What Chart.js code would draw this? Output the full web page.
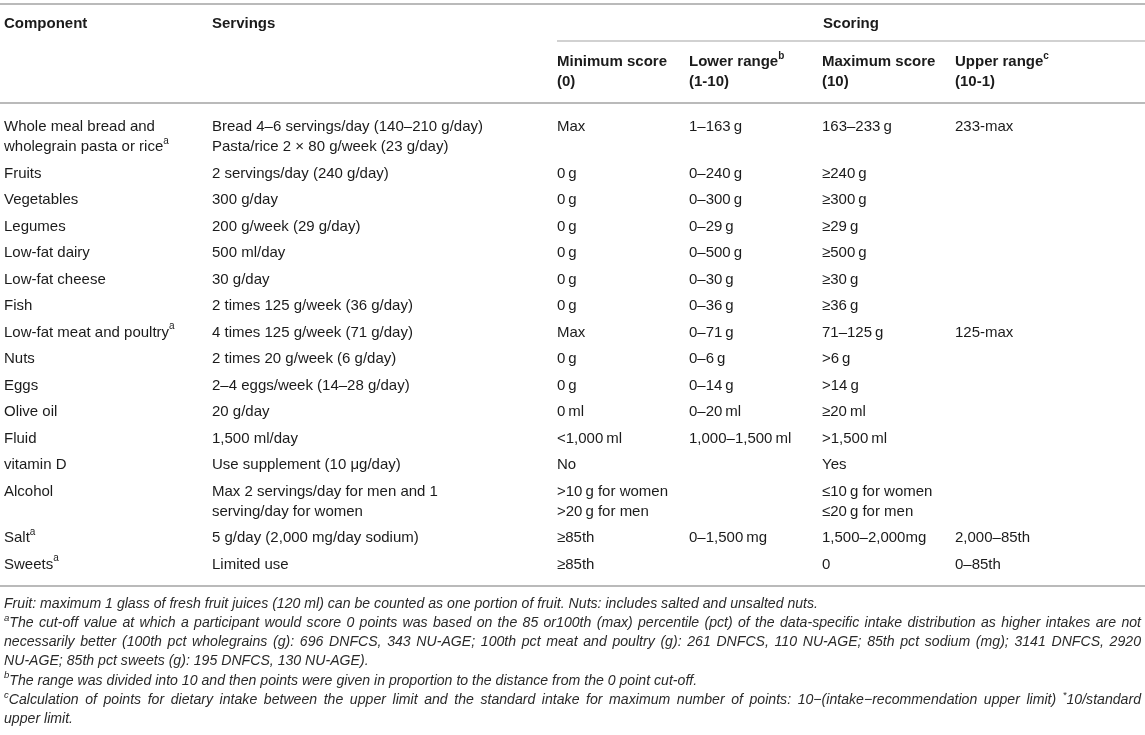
<!DOCTYPE html>
<html>
<head>
<meta charset="utf-8">
<script src="https://cdn.jsdelivr.net/npm/chart.js@4.4.0/dist/chart.umd.min.js"></script>
<style>
  html, body { margin: 0; padding: 0; background: #fff; }
  #wrap { width: 1145px; height: 735px; position: relative; }
</style>
</head>
<body>
<div id="wrap"><canvas id="tbl"></canvas></div>
<script>
// table content ({x} = superscript)
const headerTop = ['Component', 'Servings', 'Scoring'];
const scoreHeads = ['Minimum score\n(0)', 'Lower range{b}\n(1-10)', 'Maximum score\n(10)', 'Upper range{c}\n(10-1)'];

const components = [
  'Whole meal bread and\nwholegrain pasta or rice{a}', 'Fruits', 'Vegetables', 'Legumes',
  'Low-fat dairy', 'Low-fat cheese', 'Fish', 'Low-fat meat and poultry{a}', 'Nuts', 'Eggs',
  'Olive oil', 'Fluid', 'vitamin D', 'Alcohol', 'Salt{a}', 'Sweets{a}'
];
const servings = [
  'Bread 4–6 servings/day (140–210 g/day)\nPasta/rice 2 × 80 g/week (23 g/day)',
  '2 servings/day (240 g/day)', '300 g/day', '200 g/week (29 g/day)', '500 ml/day', '30 g/day',
  '2 times 125 g/week (36 g/day)', '4 times 125 g/week (71 g/day)', '2 times 20 g/week (6 g/day)',
  '2–4 eggs/week (14–28 g/day)', '20 g/day', '1,500 ml/day', 'Use supplement (10 μg/day)',
  'Max 2 servings/day for men and 1\nserving/day for women', '5 g/day (2,000 mg/day sodium)', 'Limited use'
];
const minScore = [
  'Max', '0 g', '0 g', '0 g', '0 g', '0 g', '0 g', 'Max', '0 g', '0 g', '0 ml', '<1,000 ml', 'No',
  '>10 g for women\n>20 g for men', '≥85th', '≥85th'
];
const lowerRange = [
  '1–163 g', '0–240 g', '0–300 g', '0–29 g', '0–500 g', '0–30 g', '0–36 g', '0–71 g', '0–6 g',
  '0–14 g', '0–20 ml', '1,000–1,500 ml', '', '', '0–1,500 mg', ''
];
const maxScore = [
  '163–233 g', '≥240 g', '≥300 g', '≥29 g', '≥500 g', '≥30 g', '≥36 g', '71–125 g', '>6 g',
  '>14 g', '≥20 ml', '>1,500 ml', 'Yes', '≤10 g for women\n≤20 g for men', '1,500–2,000mg', '0'
];
const upperRange = [
  '233-max', '', '', '', '', '', '', '125-max', '', '', '', '', '', '', '2,000–85th', '0–85th'
];

const footnotes = [
  'Fruit: maximum 1 glass of fresh fruit juices (120 ml) can be counted as one portion of fruit. Nuts: includes salted and unsalted nuts.',
  '{a}The cut-off value at which a participant would score 0 points was based on the 85 or100th (max) percentile (pct) of the data-specific intake distribution as higher intakes are not',
  'necessarily better (100th pct wholegrains (g): 696 DNFCS, 343 NU-AGE; 100th pct meat and poultry (g): 261 DNFCS, 110 NU-AGE; 85th pct sodium (mg); 3141 DNFCS, 2920',
  'NU-AGE; 85th pct sweets (g): 195 DNFCS, 130 NU-AGE).',
  '{b}The range was divided into 10 and then points were given in proportion to the distance from the 0 point cut-off.',
  '{c}Calculation of points for dietary intake between the upper limit and the standard intake for maximum number of points: 10−(intake−recommendation upper limit) {*}10/standard',
  'upper limit.'
];
const footJustified = [false, true, true, false, false, true, false];

// layout
const W = 1145, H = 735;
const colX = [4, 212, 557, 689, 822, 955];
const RIGHT = 1141;
const Y_HEAD = 24, Y_SUBRULE = 41, Y_SUB = 62, LINE = 20, Y_HEADRULE = 103;
const Y_BODY = 127, ROW_GAP = 26.5, RULE_AFTER = 21.5;
const FOOT_GAP = 18, FOOT_LINE = 19.2, FOOT_NATURAL = 814;

const FAMILY = "'Liberation Sans', Arial, sans-serif";
const fBody = '15px ' + FAMILY, fBold = 'bold 15px ' + FAMILY;
const fSup = '10px ' + FAMILY, fSupBold = 'bold 10px ' + FAMILY;
const fFoot = 'italic 14px ' + FAMILY, fFootSup = 'italic 9.5px ' + FAMILY;
const TEXT = '#1b1b1b', RULE = '#a3a3a3';

function parts(text) {
  return text.split(/\{([^}]*)\}/).map((t, i) => ({ t, sup: i % 2 === 1 })).filter(p => p.t);
}

function measureRich(ctx, text, font, sup) {
  let w = 0;
  parts(text).forEach(p => { ctx.font = p.sup ? sup : font; w += ctx.measureText(p.t).width; });
  return w;
}

function drawRich(ctx, text, x, y, font, sup, raise) {
  let cx = x;
  parts(text).forEach(p => {
    ctx.font = p.sup ? sup : font;
    ctx.fillText(p.t, cx, p.sup ? y - raise : y);
    cx += ctx.measureText(p.t).width;
  });
  return cx - x;
}

function thin(s) {
  return s.replace(/(\d) (g|ml|mg)\b/g, '$1\u2009$2');
}

const tablePlugin = {
  id: 'tablePlugin',
  afterDraw(chart) {
    const ctx = chart.ctx;
    const sx = v => chart.scales.x.getPixelForValue(v);
    const sy = v => chart.scales.y.getPixelForValue(v);
    const rule = (x0, x1, y, lw) => {
      ctx.strokeStyle = RULE; ctx.lineWidth = lw;
      ctx.beginPath(); ctx.moveTo(sx(x0), sy(y)); ctx.lineTo(sx(x1), sy(y)); ctx.stroke();
    };
    ctx.save();
    ctx.fillStyle = TEXT;
    ctx.textBaseline = 'middle';
    ctx.textAlign = 'left';

    // header
    rule(0, W, 4, 1.6);
    drawRich(ctx, headerTop[0], sx(colX[0]), sy(Y_HEAD), fBold, fSupBold, 6);
    drawRich(ctx, headerTop[1], sx(colX[1]), sy(Y_HEAD), fBold, fSupBold, 6);
    ctx.font = fBold;
    const sw = ctx.measureText(headerTop[2]).width;
    ctx.fillText(headerTop[2], sx((colX[2] + W) / 2) - sw / 2, sy(Y_HEAD));
    rule(colX[2], W, Y_SUBRULE, 1.2);
    scoreHeads.forEach((h, i) => {
      h.split('\n').forEach((ln, k) => drawRich(ctx, ln, sx(colX[i + 2]), sy(Y_SUB + k * LINE), fBold, fSupBold, 6));
    });
    rule(0, W, Y_HEADRULE, 1.6);

    // body
    const cols = [components, servings, minScore, lowerRange, maxScore, upperRange];
    let y = Y_BODY;
    components.forEach((_, r) => {
      let lines = 1;
      cols.forEach((col, c) => {
        const cell = c >= 2 ? thin(col[r]) : col[r];
        const ls = cell ? cell.split('\n') : [];
        lines = Math.max(lines, ls.length);
        ls.forEach((ln, k) => drawRich(ctx, ln, sx(colX[c]), sy(y + k * LINE), fBody, fSup, 6));
      });
      y += (lines - 1) * LINE + ROW_GAP;
    });
    const yRule = y - ROW_GAP + RULE_AFTER;
    rule(0, W, yRule, 1.6);

    // footnotes
    ctx.fillStyle = '#2a2a2a';
    const squeeze = FOOT_NATURAL / measureRich(ctx, footnotes[0], fFoot, fFootSup);
    footnotes.forEach((txt, i) => {
      const fy = sy(yRule + FOOT_GAP + i * FOOT_LINE);
      const x0 = sx(colX[0]);
      const words = txt.split(' ');
      const widths = words.map(w => measureRich(ctx, w, fFoot, fFootSup));
      ctx.font = fFoot;
      let gap = ctx.measureText(' ').width;
      if (footJustified[i]) {
        const total = widths.reduce((a, b) => a + b, 0);
        gap = ((sx(RIGHT) - x0) / squeeze - total) / (words.length - 1);
      }
      ctx.save();
      ctx.translate(x0, fy);
      ctx.scale(squeeze, 1);
      let cx = 0;
      words.forEach((w, k) => { drawRich(ctx, w, cx, 0, fFoot, fFootSup, 5); cx += widths[k] + gap; });
      ctx.restore();
    });
    ctx.restore();
  }
};

new Chart(document.getElementById('tbl'), {
  type: 'scatter',
  data: { datasets: [] },
  options: {
    responsive: true,
    maintainAspectRatio: false,
    animation: false,
    layout: { padding: 0 },
    plugins: { legend: { display: false }, tooltip: { enabled: false } },
    scales: {
      x: { type: 'linear', min: 0, max: W, display: false },
      y: { type: 'linear', min: 0, max: H, reverse: true, display: false }
    }
  },
  plugins: [tablePlugin]
});
</script>
</body>
</html>
